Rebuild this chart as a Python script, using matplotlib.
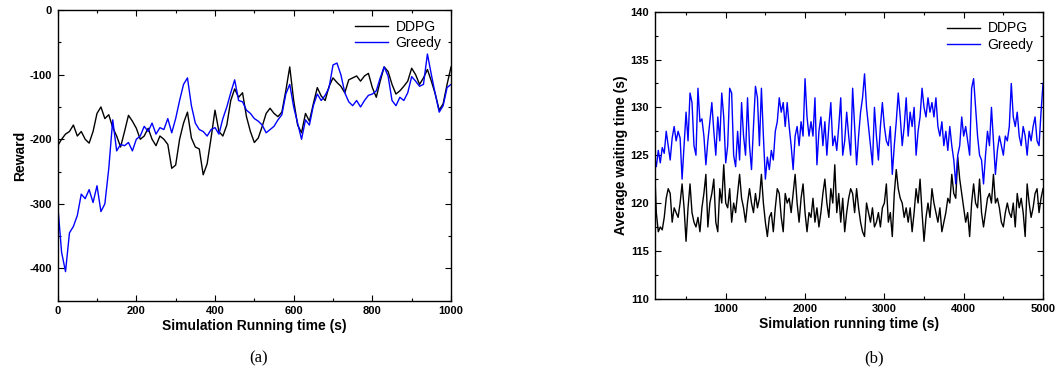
import numpy as np
import matplotlib as mpl
mpl.use('Agg')
import matplotlib.pyplot as plt
from matplotlib.ticker import MultipleLocator

plt.rcParams['font.family'] = ['Liberation Sans', 'DejaVu Sans']
plt.rcParams['axes.unicode_minus'] = False

# (a) reward vs simulation running time, sampled every 10 s
t_a = np.arange(0, 1001, 10)
ddpg_reward = [
    -210, -200, -192, -188, -178, -195, -188, -200, -206, -188,
    -160, -150, -168, -162, -182, -195, -212, -188, -163, -172,
    -183, -200, -195, -183, -200, -210, -195, -200, -208, -245,
    -240, -200, -175, -158, -198, -212, -215, -255, -238, -198,
    -155, -188, -195, -178, -140, -122, -135, -128, -165, -188,
    -205, -198, -180, -160, -152, -160, -165, -158, -125, -88,
    -140, -178, -190, -160, -172, -145, -120, -133, -140, -118,
    -105, -112, -118, -128, -108, -105, -102, -110, -102, -98,
    -120, -135, -110, -88, -95, -115, -130, -125, -118, -110,
    -90, -100, -115, -105, -92, -110, -130, -155, -145, -115,
    -88,
]
greedy_reward = [
    -300, -375, -405, -345, -335, -318, -285, -292, -278, -298,
    -272, -312, -300, -245, -170, -218, -208, -210, -205, -218,
    -200, -195, -180, -188, -175, -192, -182, -185, -168, -190,
    -168, -140, -115, -105, -148, -175, -185, -188, -195, -185,
    -182, -192, -168, -150, -128, -108, -140, -142, -155, -160,
    -168, -172, -178, -190, -185, -180, -170, -162, -130, -115,
    -150, -175, -200, -170, -178, -148, -130, -140, -132, -120,
    -85, -82, -100, -128, -142, -148, -140, -150, -140, -132,
    -130, -125, -105, -88, -102, -140, -148, -135, -140, -128,
    -103, -110, -118, -115, -68, -100, -130, -158, -148, -120,
    -115,
]

# (b) average waiting time, sampled every 25 s
t_b = np.arange(100, 5001, 25)
ddpg_wait = [
    124.5, 119.0, 117.0, 117.5, 117.2, 118.5, 120.5, 121.5, 121.0, 118.0,
    119.5, 119.0, 118.5, 120.0, 122.0, 119.5, 116.0, 119.5, 122.0, 119.0,
    118.0, 117.5, 118.5, 117.0, 119.5, 121.0, 123.0, 117.5, 120.0, 121.0,
    122.5, 118.0, 117.0, 121.5, 120.0, 124.0, 120.0, 119.5, 121.5, 118.0,
    120.0, 119.0, 121.0, 123.0, 120.5, 119.5, 118.0, 120.0, 121.5, 120.0,
    119.0, 121.0, 119.5, 120.5, 123.0, 120.0, 118.0, 116.5, 118.5, 119.0,
    117.0, 119.5, 121.5, 121.0, 118.5, 117.0, 121.0, 120.0, 120.5, 119.0,
    121.0, 123.0, 120.0, 118.0, 120.5, 122.0, 119.0, 117.0, 119.0, 118.5,
    120.5, 118.0, 119.5, 117.5, 119.0, 121.0, 122.5, 120.0, 118.5, 121.5,
    120.0, 124.0, 119.0, 121.0, 118.0, 120.5, 117.0, 119.0, 120.5, 121.5,
    121.0, 119.0, 121.5, 119.5, 118.0, 117.0, 116.5, 120.0, 119.0, 118.0,
    119.5, 117.5, 118.0, 119.0, 117.5, 119.5, 120.0, 122.0, 118.0, 119.0,
    116.5, 121.0, 123.5, 121.5, 120.5, 120.0, 118.5, 119.5, 118.0, 119.5,
    117.0, 119.0, 121.5, 120.0, 122.5, 119.0, 116.0, 118.5, 120.0, 118.5,
    121.5, 120.0, 119.0, 118.0, 119.5, 117.0, 118.0, 119.0, 120.5, 120.0,
    123.0, 121.0, 120.5, 124.8, 122.5, 121.0, 119.5, 118.0, 119.0, 116.5,
    120.0, 122.0, 120.0, 119.5, 122.5, 119.0, 117.5, 119.0, 120.5, 121.0,
    120.0, 123.0, 120.0, 120.5, 119.5, 118.0, 117.5, 119.0, 120.0, 119.0,
    118.5, 120.0, 117.5, 121.0, 119.5, 120.5, 119.0, 116.5, 122.0, 120.0,
    118.5, 119.5, 121.0, 121.5, 119.0, 120.5, 121.5,
]
greedy_wait = [
    125.0, 123.8, 125.5, 124.2, 125.8, 125.2, 127.5, 126.0, 124.5, 126.8,
    128.0, 126.5, 127.5, 126.8, 122.5, 126.0, 129.5, 126.5, 131.5, 130.5,
    126.0, 125.0, 132.0, 128.5, 128.8, 127.0, 124.0, 126.5, 128.5, 130.5,
    127.5, 125.0, 129.0, 126.5, 131.5, 129.0, 124.2, 126.0, 132.0, 131.5,
    125.0, 123.8, 127.5, 124.5, 130.5, 127.0, 125.0, 131.0, 126.0, 123.5,
    128.0, 132.2, 131.0, 126.0, 132.0, 127.0, 122.5, 124.8, 123.5, 125.5,
    124.5, 127.5, 128.5, 131.0, 129.5, 130.5, 128.0, 130.5, 128.0, 126.0,
    123.5, 127.0, 128.0, 126.0, 128.5, 127.0, 133.0, 129.0, 127.0, 128.5,
    127.0, 131.0, 124.0, 127.5, 129.0, 126.0, 128.5, 125.0, 128.0, 130.5,
    126.0, 127.0, 125.5, 128.0, 131.0, 125.0, 126.5, 129.5, 127.0, 125.0,
    132.0, 128.0, 124.0, 127.0, 129.5, 131.0, 133.5, 130.0, 128.0, 126.0,
    124.0, 130.0, 127.0, 124.5, 128.0, 130.5, 128.0, 126.5, 126.0, 128.0,
    123.0, 126.0, 128.5, 131.5, 129.0, 126.0, 128.0, 131.0, 127.0, 129.5,
    128.0, 130.0, 125.0, 127.5, 129.0, 132.0, 130.0, 129.0, 131.0, 129.5,
    130.5, 129.0, 131.0, 128.0, 127.0, 128.5, 126.0, 127.5, 125.5, 128.0,
    126.0, 124.5, 122.0, 125.0, 126.0, 129.0, 127.0, 128.0, 126.5, 125.0,
    132.0, 133.0, 130.0, 127.0, 125.0, 124.5, 122.0, 125.0, 127.5, 126.0,
    130.0, 126.5, 123.0, 125.5, 127.0, 126.0, 125.0, 127.0, 126.5, 128.0,
    132.5, 129.0, 128.0, 129.5, 127.0, 126.0, 128.0, 127.0, 125.0, 127.5,
    126.5, 128.0, 129.0, 126.5, 126.0, 129.5, 132.5,
]


def style_axes(ax):
    ax.tick_params(which='both', direction='in', top=True, right=True,
                   labelsize=8, width=0.8)
    ax.tick_params(which='major', length=4, pad=4)
    ax.tick_params(which='minor', length=2.5)
    for lab in ax.get_xticklabels() + ax.get_yticklabels():
        lab.set_fontweight('bold')
    for s in ax.spines.values():
        s.set_linewidth(1.0)
    leg = ax.legend(loc='upper right', frameon=False, fontsize=10,
                    handlelength=2.4, borderaxespad=0.3, handletextpad=0.5,
                    labelspacing=0.15)
    for line in leg.get_lines():
        line.set_linewidth(1.0)


fig = plt.figure(figsize=(10.56, 3.74), dpi=100)

ax1 = fig.add_axes([0.0546, 0.196, 0.3725, 0.777])
ax1.plot(t_a, ddpg_reward, color='black', lw=1.0, label='DDPG')
ax1.plot(t_a, greedy_reward, color='#0000ff', lw=1.0, label='Greedy')
ax1.set_xlim(0, 1000)
ax1.set_ylim(-450, 0)
ax1.xaxis.set_major_locator(MultipleLocator(200))
ax1.xaxis.set_minor_locator(MultipleLocator(100))
ax1.yaxis.set_major_locator(MultipleLocator(100))
ax1.yaxis.set_minor_locator(MultipleLocator(50))
ax1.set_xlabel('Simulation Running time (s)', fontsize=10, fontweight='bold', labelpad=2)
ax1.set_ylabel('Reward', fontsize=10, fontweight='bold', labelpad=2)
style_axes(ax1)

ax2 = fig.add_axes([0.620, 0.2013, 0.3677, 0.7674])
ax2.plot(t_b, ddpg_wait, color='black', lw=1.0, label='DDPG')
ax2.plot(t_b, greedy_wait, color='#0000ff', lw=1.0, label='Greedy')
ax2.set_xlim(105, 5000)
ax2.set_ylim(110, 140)
ax2.xaxis.set_major_locator(MultipleLocator(1000))
ax2.xaxis.set_minor_locator(MultipleLocator(500))
ax2.yaxis.set_major_locator(MultipleLocator(5))
ax2.yaxis.set_minor_locator(MultipleLocator(2.5))
ax2.set_xlabel('Simulation running time (s)', fontsize=10, fontweight='bold', labelpad=2)
ax2.set_ylabel('Average waiting time (s)', fontsize=10, fontweight='bold', labelpad=2)
style_axes(ax2)

fig.text(0.245, 0.043, '(a)', ha='center', va='center', fontsize=12,
         family=['Liberation Serif', 'DejaVu Serif'])
fig.text(0.828, 0.043, '(b)', ha='center', va='center', fontsize=12,
         family=['Liberation Serif', 'DejaVu Serif'])

fig.savefig('out.png', dpi=100)
plt.close()
